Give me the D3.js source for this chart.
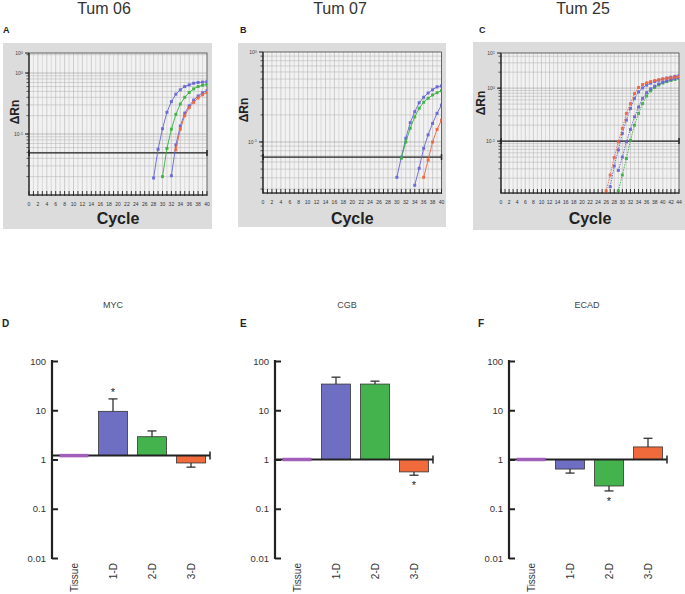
<!DOCTYPE html>
<html><head><meta charset="utf-8">
<script src="https://cdn.jsdelivr.net/npm/d3@7"></script>
<style>body{margin:0;background:#fff;} svg{display:block;font-family:"Liberation Sans",Arial,sans-serif;}</style>
</head><body>
<svg id="fig" width="685" height="594"></svg>
<script>
// ================= DATA =================
const tumTitles = ["Tum 06", "Tum 07", "Tum 25"];
const topLetters = ["A", "B", "C"];
const curveColors = ["#6464d2", "#38b040", "#6464d2", "#f0643c"]; // blue, green, blue, red
const cycleLabels40 = [0,2,4,6,8,10,12,14,16,18,20,22,24,26,28,30,32,34,36,38,40];
const cycleLabels44 = [0,2,4,6,8,10,12,14,16,18,20,22,24,26,28,30,32,34,36,38,40,42,44];

// Tum 06 (panel A) - first cycle of each curve and ΔRn values
const tum06Starts = [28, 30, 32, 33];
const tum06Blue1 = [0.019, 0.056, 0.122, 0.227, 0.34, 0.45, 0.53, 0.60, 0.64, 0.68, 0.70, 0.71, 0.72];
const tum06Green = [0.020, 0.058, 0.12, 0.21, 0.31, 0.40, 0.48, 0.55, 0.60, 0.63, 0.65];
const tum06Blue2 = [0.0207, 0.066, 0.135, 0.22, 0.29, 0.36, 0.42, 0.475, 0.51];
const tum06Red   = [0.055, 0.12, 0.20, 0.27, 0.33, 0.39, 0.44, 0.48];
const tum06Threshold = 0.049;
const tum06YTickValues = [2.13, 1, 0.1];
const tum06YTickLabels = [["10","0"], ["10","0"], ["10","-1"]];

// Tum 07 (panel B)
const tum07Starts = [30, 31, 34, 36];
const tum07Blue1 = [0.0405, 0.0676, 0.11, 0.164, 0.217, 0.273, 0.314, 0.35, 0.38, 0.41, 0.42];
const tum07Green = [0.066, 0.10, 0.142, 0.19, 0.237, 0.276, 0.306, 0.333, 0.353, 0.372];
const tum07Blue2 = [0.033, 0.051, 0.085, 0.12, 0.161, 0.208, 0.257];
const tum07Red   = [0.0405, 0.063, 0.10, 0.138, 0.175];
const tum07Threshold = 0.068;
const tum07YTickValues = [1, 0.1];
const tum07YTickLabels = [["10","0"], ["10","-1"]];

// Tum 25 (panel C)
const tum25Starts = [27, 29, 29, 26];
const tum25Blue1 = [0.0138, 0.034, 0.068, 0.14, 0.249, 0.414, 0.64, 0.85, 1.01, 1.14, 1.24, 1.33, 1.41, 1.48, 1.55, 1.61, 1.67, 1.72];
const tum25Green = [0.0115, 0.023, 0.047, 0.104, 0.2, 0.333, 0.51, 0.71, 0.89, 1.03, 1.15, 1.25, 1.33, 1.4, 1.46, 1.52];
const tum25Blue2 = [0.028, 0.05, 0.097, 0.166, 0.287, 0.44, 0.64, 0.82, 0.97, 1.09, 1.2, 1.29, 1.37, 1.44, 1.51, 1.57];
const tum25Red   = [0.0115, 0.0229, 0.049, 0.097, 0.174, 0.333, 0.51, 0.79, 1.03, 1.17, 1.26, 1.33, 1.39, 1.44, 1.49, 1.53, 1.57, 1.61, 1.65];
const tum25Threshold = 0.1;
const tum25YTickValues = [4.6, 1, 0.1];
const tum25YTickLabels = [["10","1"], ["10","0"], ["10","-1"]];

// Bar charts (panels D-F): relative expression, log scale
const genes = ["MYC", "CGB", "ECAD"];
const bottomLetters = ["D", "E", "F"];
const categories = ["Tissue", "1-D", "2-D", "3-D"];
const barColors = ["#a25fba", "#6e6ec2", "#45b34d", "#f06a3c"];
const baselines = [1.2, 1, 1];
const mycValues  = [1.2, 9.5, 2.9, 0.85];
const mycErrors  = [null, 17, 3.8, 0.70];
const mycStars   = [false, true, false, false];
const cgbValues  = [1, 34, 34, 0.56];
const cgbErrors  = [null, 47, 39, 0.48];
const cgbStars   = [false, false, false, true];
const ecadValues = [1, 0.64, 0.29, 1.8];
const ecadErrors = [null, 0.53, 0.23, 2.7];
const ecadStars  = [false, false, true, false];
const barYTickValues = [0.01, 0.1, 1, 10, 100];
const barYTickLabels = ["0.01", "0.1", "1", "10", "100"];

// ================= DRAWING =================
const svg = d3.select("#fig");

function qpcrPanel(cfg, idx) {
  const g = svg.append("g");
  // title and letter
  g.append("text").attr("x", cfg.titleX).attr("y", 14).attr("text-anchor", "middle")
    .attr("font-size", 16).attr("fill", "#333").text(tumTitles[idx]);
  g.append("text").attr("x", cfg.letterX).attr("y", 33).attr("font-size", 9)
    .attr("font-weight", "bold").attr("fill", "#222").text(topLetters[idx]);
  // gray box
  g.append("rect").attr("x", cfg.box[0]).attr("y", cfg.box[1])
    .attr("width", cfg.box[2] - cfg.box[0]).attr("height", cfg.box[3] - cfg.box[1])
    .attr("fill", "#dcdcdc");
  const x = d3.scaleLinear().domain([0, cfg.maxCycle]).range(cfg.xr);
  const y = d3.scaleLog().domain(cfg.yd).range(cfg.yr);
  const [x0, x1] = cfg.xr, [yb, yt] = cfg.yr;
  g.append("rect").attr("x", x0).attr("y", yt).attr("width", x1 - x0).attr("height", yb - yt)
    .attr("fill", "#f2f2f2");
  // vertical grid
  const cyc = d3.range(1, cfg.maxCycle);
  g.append("g").selectAll("line").data(cyc).join("line")
    .attr("x1", d => x(d)).attr("x2", d => x(d)).attr("y1", yt).attr("y2", yb)
    .attr("stroke", d => d % 2 === 0 ? "#b4b4b4" : "#c8c8c8").attr("stroke-width", 0.6);
  // horizontal grid (log minor)
  const minors = [];
  for (let e = -3; e <= 1; e++) for (let m = 1; m <= 9; m++) {
    const v = m * Math.pow(10, e);
    if (v > cfg.yd[0] && v < cfg.yd[1]) minors.push(v);
  }
  g.append("g").selectAll("line").data(minors).join("line")
    .attr("x1", x0).attr("x2", x1).attr("y1", d => y(d)).attr("y2", d => y(d))
    .attr("stroke", d => (Math.abs(Math.log10(d) - Math.round(Math.log10(d))) < 1e-6) ? "#999" : "#b8b8b8")
    .attr("stroke-width", 0.6);
  // y minor ticks
  g.append("g").selectAll("line").data(minors).join("line")
    .attr("x1", x0 - 2.5).attr("x2", x0).attr("y1", d => y(d)).attr("y2", d => y(d))
    .attr("stroke", "#333").attr("stroke-width", 0.8);
  // frame
  g.append("rect").attr("x", x0).attr("y", yt).attr("width", x1 - x0).attr("height", yb - yt)
    .attr("fill", "none").attr("stroke", "#444").attr("stroke-width", 0.8);
  g.append("line").attr("x1", x0).attr("x2", x0).attr("y1", yt).attr("y2", yb)
    .attr("stroke", "#222").attr("stroke-width", 1.2);
  g.append("line").attr("x1", x0).attr("x2", x1).attr("y1", yb).attr("y2", yb)
    .attr("stroke", "#222").attr("stroke-width", 1.2);
  // y tick labels
  cfg.yTickValues.forEach((v, i) => {
    g.append("line").attr("x1", x0 - 4).attr("x2", x0).attr("y1", y(v)).attr("y2", y(v))
      .attr("stroke", "#222").attr("stroke-width", 1);
    const t = g.append("text").attr("x", x0 - 6).attr("y", y(v) + 2).attr("text-anchor", "end")
      .attr("font-size", 5).attr("fill", "#444");
    t.append("tspan").text(cfg.yTickLabels[i][0]);
    t.append("tspan").attr("dy", -1.5).attr("font-size", 4).text(cfg.yTickLabels[i][1]);
  });
  // x ticks every cycle
  const allC = d3.range(0, cfg.maxCycle + 1);
  g.append("g").selectAll("line").data(allC).join("line")
    .attr("x1", d => x(d)).attr("x2", d => x(d)).attr("y1", yb - 4).attr("y2", yb + 1)
    .attr("stroke", "#222").attr("stroke-width", 0.9);
  g.append("g").selectAll("text").data(cfg.cycleLabels).join("text")
    .attr("x", d => x(d)).attr("y", yb + 11).attr("text-anchor", "middle")
    .attr("font-size", 5).attr("fill", "#333").text(d => d);
  // axis titles
  g.append("text").attr("x", (x0 + x1) / 2).attr("y", 224).attr("text-anchor", "middle")
    .attr("font-size", 16).attr("font-weight", "bold").attr("fill", "#222").text("Cycle");
  g.append("text").attr("transform", `translate(${cfg.rnX},${cfg.rnY}) rotate(-90)`)
    .attr("text-anchor", "middle").attr("font-size", 12).attr("font-weight", "bold")
    .attr("fill", "#222").text("ΔRn");
  // threshold
  const ty = y(cfg.threshold);
  g.append("line").attr("x1", x0).attr("x2", x1).attr("y1", ty).attr("y2", ty)
    .attr("stroke", "#222").attr("stroke-width", 1.2);
  [x0, x1].forEach(xx => g.append("line").attr("x1", xx).attr("x2", xx)
    .attr("y1", ty - 3).attr("y2", ty + 3).attr("stroke", "#222").attr("stroke-width", 1.5));
  // curves
  const clipId = "clip" + idx;
  g.append("clipPath").attr("id", clipId).append("rect")
    .attr("x", x0).attr("y", yt).attr("width", x1 - x0).attr("height", yb - yt);
  const line = d3.line().x(d => x(d.c)).y(d => y(d.v));
  const cg = g.append("g").attr("clip-path", `url(#${clipId})`);
  cfg.series.forEach((vals, si) => {
    const pts = vals.map((v, k) => ({c: cfg.starts[si] + k, v}));
    cg.append("path").datum(pts).attr("d", line).attr("fill", "none")
      .attr("stroke", curveColors[si]).attr("stroke-width", 0.9)
      .attr("stroke-dasharray", cfg.dashed ? "1.6,1" : null);
    cg.append("g").selectAll("rect").data(pts).join("rect")
      .attr("x", d => x(d.c) - 1.5).attr("y", d => y(d.v) - 1.5)
      .attr("width", 3).attr("height", 3).attr("fill", curveColors[si]).attr("opacity", 0.9);
  });
}

qpcrPanel({titleX: 104, letterX: 3, box: [3, 43, 212, 229], xr: [29, 207], maxCycle: 40,
  yr: [195, 53], yd: [0.01, 2.13], threshold: tum06Threshold,
  yTickValues: tum06YTickValues, yTickLabels: tum06YTickLabels, cycleLabels: cycleLabels40,
  starts: tum06Starts, series: [tum06Blue1, tum06Green, tum06Blue2, tum06Red],
  rnX: 19, rnY: 112, dashed: false}, 0);
qpcrPanel({titleX: 340, letterX: 240, box: [238, 43, 446, 227], xr: [263, 441.5], maxCycle: 40,
  yr: [193, 52], yd: [0.0271, 1], threshold: tum07Threshold,
  yTickValues: tum07YTickValues, yTickLabels: tum07YTickLabels, cycleLabels: cycleLabels40,
  starts: tum07Starts, series: [tum07Blue1, tum07Green, tum07Blue2, tum07Red],
  rnX: 248, rnY: 110, dashed: false}, 1);
qpcrPanel({titleX: 583, letterX: 479, box: [473, 42, 685, 230], xr: [501, 679], maxCycle: 44,
  yr: [193, 53], yd: [0.0105, 4.6], threshold: tum25Threshold,
  yTickValues: tum25YTickValues, yTickLabels: tum25YTickLabels, cycleLabels: cycleLabels44,
  starts: tum25Starts, series: [tum25Blue1, tum25Green, tum25Blue2, tum25Red],
  rnX: 485, rnY: 103, dashed: true}, 2);

// ---------- bar panels ----------
const barSets = [
  {values: mycValues, errors: mycErrors, stars: mycStars},
  {values: cgbValues, errors: cgbErrors, stars: cgbStars},
  {values: ecadValues, errors: ecadErrors, stars: ecadStars}
];
const axisXs = [52, 275, 509];
const titleXs = [113, 347, 587];
const letterXs = [2, 240, 478];

barSets.forEach((set, p) => {
  const ax = axisXs[p];
  const g = svg.append("g");
  g.append("text").attr("x", titleXs[p]).attr("y", 308).attr("text-anchor", "middle")
    .attr("font-size", 9).attr("fill", "#444").text(genes[p]);
  g.append("text").attr("x", letterXs[p]).attr("y", 327).attr("font-size", 10)
    .attr("font-weight", "bold").attr("fill", "#222").text(bottomLetters[p]);
  const y = d3.scaleLog().domain([0.01, 100]).range([558, 361]);
  const xb = d3.scaleBand().domain(categories).range([ax + 2.5, ax + 158.5]).paddingInner(0.26).paddingOuter(0.13);
  const base = baselines[p];
  // axis
  const yAxis = d3.axisLeft(y).tickValues(barYTickValues)
    .tickFormat((d, i) => barYTickLabels[i]).tickSize(-6).tickPadding(6);
  const ag = g.append("g").attr("transform", `translate(${ax},0)`).call(yAxis);
  ag.select(".domain").remove();
  ag.selectAll(".tick line").attr("stroke", "#222").attr("stroke-width", 2);
  ag.selectAll(".tick text").attr("font-size", 9.5).attr("fill", "#333")
    .attr("font-family", "Liberation Sans, Arial, sans-serif");
  g.append("line").attr("x1", ax).attr("x2", ax).attr("y1", 360).attr("y2", 559)
    .attr("stroke", "#222").attr("stroke-width", 2.2);
  // bars
  categories.forEach((c, i) => {
    if (i === 0) return;
    const v = set.values[i];
    const yv = y(v), y0 = y(base);
    g.append("rect").attr("x", xb(c)).attr("width", xb.bandwidth())
      .attr("y", Math.min(yv, y0)).attr("height", Math.abs(yv - y0))
      .attr("fill", barColors[i]).attr("stroke", "#333").attr("stroke-width", 0.8);
    const e = set.errors[i];
    if (e != null) {
      const cx = xb(c) + xb.bandwidth() / 2;
      g.append("line").attr("x1", cx).attr("x2", cx).attr("y1", yv).attr("y2", y(e))
        .attr("stroke", "#222").attr("stroke-width", 1.2);
      g.append("line").attr("x1", cx - 4.5).attr("x2", cx + 4.5).attr("y1", y(e)).attr("y2", y(e))
        .attr("stroke", "#222").attr("stroke-width", 1.2);
      if (set.stars[i]) {
        const above = e > v;
        g.append("text").attr("x", cx).attr("y", above ? y(e) - 3 : y(e) + 14)
          .attr("text-anchor", "middle").attr("font-size", 11).attr("fill", "#222").text("*");
      }
    }
  });
  // baseline
  const yb0 = y(base);
  g.append("line").attr("x1", ax).attr("x2", ax + 158).attr("y1", yb0).attr("y2", yb0)
    .attr("stroke", "#222").attr("stroke-width", 2);
  g.append("line").attr("x1", ax + 158).attr("x2", ax + 158).attr("y1", yb0 - 4).attr("y2", yb0 + 4)
    .attr("stroke", "#222").attr("stroke-width", 1.5);
  // tissue line
  g.append("line").attr("x1", xb("Tissue")).attr("x2", xb("Tissue") + xb.bandwidth())
    .attr("y1", y(set.values[0])).attr("y2", y(set.values[0]))
    .attr("stroke", barColors[0]).attr("stroke-width", 3.5);
  // category labels
  g.append("g").selectAll("text").data(categories).join("text")
    .attr("transform", d => `translate(${xb(d) + xb.bandwidth() / 2 + 3.5},563) rotate(-90)`)
    .attr("text-anchor", "end").attr("font-size", 10).attr("fill", "#333").text(d => d);
});
</script>
</body></html>
